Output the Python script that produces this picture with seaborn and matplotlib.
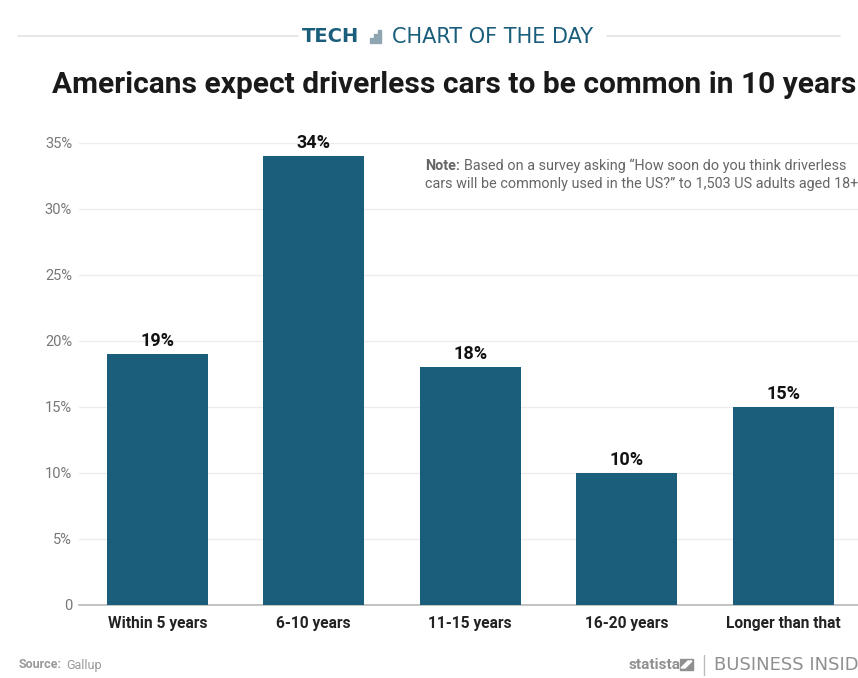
import matplotlib
matplotlib.use("Agg")
import matplotlib.pyplot as plt
import seaborn as sns
import pandas as pd

categories = ["Within 5 years", "6-10 years", "11-15 years", "16-20 years", "Longer than that"]
values = [19, 34, 18, 10, 15]
value_labels = ["19%", "34%", "18%", "10%", "15%"]
yticks = [0, 5, 10, 15, 20, 25, 30, 35]
ytick_labels = ["0", "5%", "10%", "15%", "20%", "25%", "30%", "35%"]

W, H = 858, 678
sns.set_theme(style="white")
plt.rcParams['font.family'] = ['Roboto', 'DejaVu Sans']
fig = plt.figure(figsize=(W/100, H/100), dpi=100, facecolor="white")
ax = fig.add_axes([79/W, 1-605/H, (858-79)/W, (605-143)/H])
df = pd.DataFrame({"c": categories, "v": values})
sns.barplot(data=df, x="c", y="v", color="#1a5e7c", saturation=1, width=0.645, linewidth=0, ax=ax, zorder=3)
ax.set_xlim(-0.5, 4.5 + (858-79-5*156.5)/156.5)
ax.set_ylim(0, 35)
ax.set_yticks(yticks, ytick_labels, fontsize=10.5, color="#777777")
ax.set_xticks(range(5), categories, fontsize=11.2, fontweight="bold", color="#222222")
ax.set_xlabel(""); ax.set_ylabel("")
ax.tick_params(axis="both", length=0)
ax.tick_params(axis="x", pad=8)
ax.tick_params(axis="y", pad=5)
ax.grid(axis="y", color="#ececec", lw=1, zorder=0)
for s in ["top", "right", "left"]:
    ax.spines[s].set_visible(False)
ax.spines["bottom"].set_color("#bbbbbb")
for i, (v, l) in enumerate(zip(values, value_labels)):
    ax.annotate(l, (i, v), xytext=(0, 3), textcoords="offset points", ha="center", va="bottom",
                fontsize=13, fontweight="bold", color="#111111", zorder=5)

def t(x, y, s, **k):
    return fig.text(x/W, 1-y/H, s, **k)

t(52, 85, "Americans expect driverless cars to be common in 10 years", fontsize=21.5, fontweight="bold", color="#1a1a1a", va="center")
t(302, 37, "TECH", fontsize=14, fontweight="bold", family="DejaVu Sans", color="#1a5e7c", va="center")
t(392, 37, "CHART OF THE DAY", fontsize=15, family="DejaVu Sans", color="#1a5e7c", va="center")
fig.add_artist(plt.Line2D([18/W, 298/W], [1-36/H]*2, color="#e3e3e3", lw=1.2))
fig.add_artist(plt.Line2D([607/W, 840/W], [1-36/H]*2, color="#e3e3e3", lw=1.2))
for dx, h in [(0, 5), (4, 9), (8, 13)]:
    fig.add_artist(plt.Rectangle(((370+dx)/W, 1-43/H), 3.4/W, h/H, color="#8fa6b2"))

t(425, 166, "Note:", fontsize=10.35, fontweight="bold", color="#666666", va="center")
t(464, 166, "Based on a survey asking “How soon do you think driverless", fontsize=10.35, color="#666666", va="center")
t(425, 184, "cars will be commonly used in the US?” to 1,503 US adults aged 18+", fontsize=10.35, color="#666666", va="center")

t(19, 665, "Source:", fontsize=9, fontweight="bold", color="#999999", va="center")
t(66, 665, "Gallup", fontsize=9, color="#999999", va="center")
t(629, 665, "statista", fontsize=11, fontweight="bold", color="#909090", va="center")
fig.add_artist(plt.Polygon([(680/W, 1-670/H), (680/W, 1-659/H), (693/W, 1-659/H), (693/W, 1-670/H)], closed=True, color="#909090"))
fig.add_artist(plt.Polygon([(681/W, 1-668/H), (688/W, 1-661/H), (692/W, 1-661/H), (685/W, 1-668/H)], closed=True, color="white"))
fig.add_artist(plt.Line2D([704/W, 704/W], [1-675/H, 1-655/H], color="#bbbbbb", lw=1))
t(714, 665, "BUSINESS INSIDER", fontsize=13, family="DejaVu Sans", color="#909090", va="center")
fig.savefig("out.png", dpi=100)
